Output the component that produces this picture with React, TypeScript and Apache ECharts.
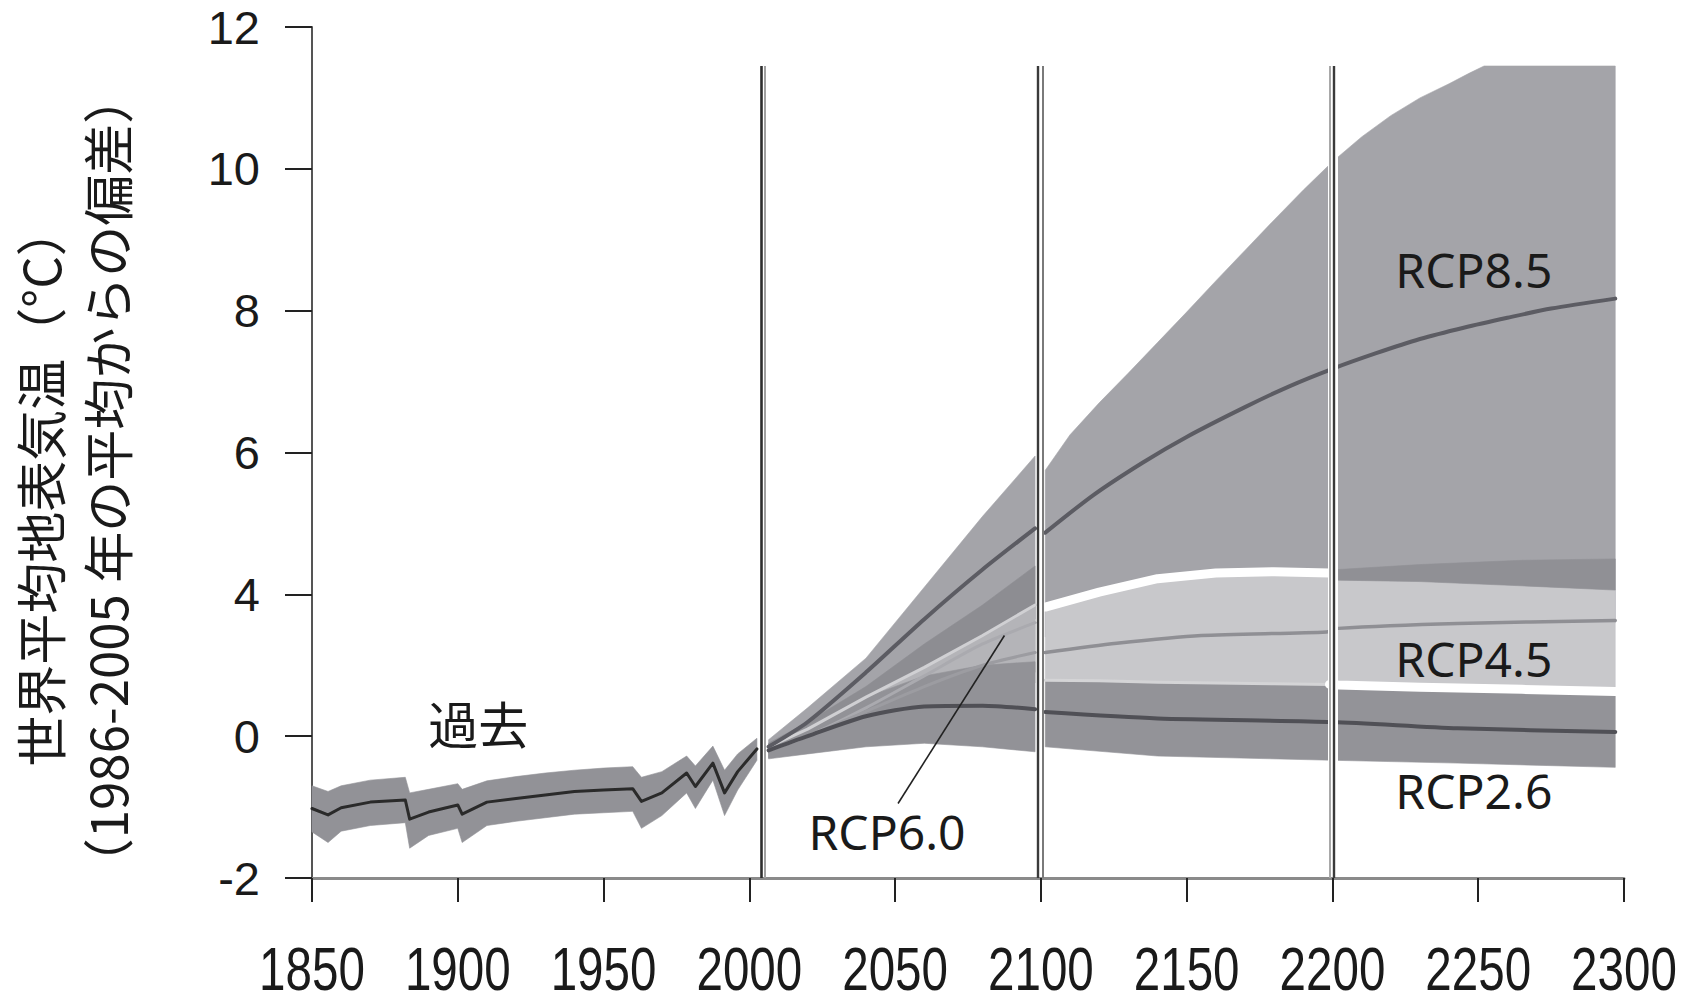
import React, { useEffect, useRef } from "react";
import * as echarts from "echarts";

// ---------- axes ----------
const X_MIN = 1850;
const X_MAX = 2300;
const X_STEP = 50;
const X_TICK_LABELS = ["1850", "1900", "1950", "2000", "2050", "2100", "2150", "2200", "2250", "2300"];
const Y_MIN = 0;
const Y_MAX = 12;
const Y_STEP = 2;
// tick labels exactly as printed in the figure (bottom to top)
const Y_TICK_LABELS = ["-2", "0", "4", "6", "8", "10", "12"];

// ---------- historical (過去) ----------
const HIST_YEARS = [1850, 1855.5, 1860, 1870, 1882, 1883.5, 1890, 1900, 1901.5, 1910, 1920, 1930, 1940, 1950, 1960, 1963, 1970, 1978.5, 1981.5, 1987.5, 1991.5, 1996, 2002.6];
const HIST_MEAN = [0.98, 0.89, 0.99, 1.07, 1.1, 0.83, 0.93, 1.03, 0.9, 1.07, 1.12, 1.17, 1.22, 1.24, 1.26, 1.08, 1.2, 1.48, 1.29, 1.62, 1.2, 1.5, 1.82];
const HIST_UPPER = [1.3, 1.22, 1.3, 1.38, 1.42, 1.2, 1.25, 1.33, 1.25, 1.37, 1.43, 1.48, 1.52, 1.55, 1.57, 1.42, 1.5, 1.72, 1.58, 1.86, 1.52, 1.75, 1.97];
const HIST_LOWER = [0.65, 0.5, 0.66, 0.74, 0.78, 0.42, 0.6, 0.7, 0.5, 0.74, 0.8, 0.85, 0.9, 0.92, 0.94, 0.7, 0.88, 1.2, 0.98, 1.38, 0.88, 1.24, 1.66];

// ---------- projections to 2100 ----------
const PRE_YEARS = [2006.6, 2020, 2040, 2060, 2080, 2098];
const R85_UPPER_1 = [1.95, 2.4, 3.1, 4.1, 5.1, 5.95];
const R85_MEAN_1 = [1.85, 2.2, 2.9, 3.65, 4.35, 4.93];
const R85_LOWER_1 = [1.75, 2.0, 2.45, 2.9, 3.3, 3.65];
const R60_UPPER_1 = [1.9, 2.2, 2.7, 3.3, 3.85, 4.4];
const R60_MEAN_1 = [1.8, 2.0, 2.4, 2.85, 3.3, 3.6];
const R60_LOWER_1 = [1.7, 1.85, 2.2, 2.5, 2.7, 2.9];
const R45_UPPER_1 = [1.85, 2.1, 2.55, 2.97, 3.42, 3.85];
const R45_MEAN_1 = [1.8, 2.0, 2.35, 2.7, 3.0, 3.18];
const R45_LOWER_1 = [1.7, 1.85, 2.15, 2.4, 2.6, 2.75];
const R26_UPPER_1 = [1.85, 2.15, 2.55, 2.85, 3.0, 3.05];
const R26_MEAN_1 = [1.8, 2.0, 2.28, 2.42, 2.43, 2.38];
const R26_LOWER_1 = [1.68, 1.75, 1.85, 1.9, 1.85, 1.78];

// ---------- extensions 2100-2300 ----------
const R85_YEARS_2 = [2101.5, 2110, 2120, 2130, 2140, 2150, 2160, 2170, 2180, 2190, 2200, 2210, 2220, 2230, 2240, 2247, 2252, 2297];
const R85_UPPER_2 = [5.75, 6.25, 6.7, 7.12, 7.55, 7.98, 8.42, 8.85, 9.28, 9.7, 10.1, 10.45, 10.75, 11.0, 11.2, 11.35, 11.45, 11.45];
const R85_LOWER_2 = [3.4, 3.42, 3.45, 3.47, 3.5, 3.52, 3.55, 3.57, 3.6, 3.6, 3.6, 3.6, 3.6, 3.6, 3.6, 3.6, 3.6, 3.6];
const R85_MEAN_YEARS_2 = [2101.5, 2118, 2135, 2150, 2170, 2185, 2200, 2215, 2230, 2245, 2260, 2275, 2297];
const R85_MEAN_2 = [4.87, 5.4, 5.86, 6.22, 6.64, 6.93, 7.18, 7.4, 7.6, 7.76, 7.9, 8.03, 8.17];

const R45_YEARS_2 = [2101.5, 2120, 2140, 2160, 2180, 2199, 2202, 2230, 2265, 2297];
const R45_UPPER_2 = [3.82, 4.03, 4.22, 4.3, 4.32, 4.3, 4.2, 4.18, 4.12, 4.06];
const R45_LOWER_2 = [2.79, 2.78, 2.76, 2.75, 2.74, 2.73, 2.72, 2.69, 2.66, 2.63];
const R45_MEAN_YEARS_2 = [2101.5, 2126, 2155, 2198, 2202, 2243, 2297];
const R45_MEAN_2 = [3.18, 3.31, 3.42, 3.47, 3.52, 3.59, 3.63];
const R45_STRIP_YEARS = [2202, 2230, 2265, 2297];
const R45_STRIP_UPPER = [4.35, 4.42, 4.48, 4.5];
const R45_STRIP_LOWER = [4.2, 4.18, 4.12, 4.06];

const R26_YEARS_2 = [2101.5, 2140, 2200, 2243, 2297];
const R26_UPPER_2 = [2.79, 2.76, 2.73, 2.68, 2.63];
const R26_MEAN_2 = [2.34, 2.25, 2.2, 2.11, 2.06];
const R26_LOWER_2 = [1.85, 1.72, 1.66, 1.62, 1.56];

// ---------- period dividers and annotations ----------
const DIVIDER_TOP = 11.45;
const DIVIDERS = [
  { x: 2004.0, color: "#2e2e2e", width: 2.6 },
  { x: 2005.3, color: "#a0a0a0", width: 2 },
  { x: 2098.9, color: "#3a3a3a", width: 2.4 },
  { x: 2100.7, color: "#7a7a7a", width: 2 },
  { x: 2199.0, color: "#a8a8a8", width: 2 },
  { x: 2200.4, color: "#3a3a3a", width: 2.4 },
];
const GAP_2200 = 2200.0;
const RCP60_POINTER = [
  [2051, 1.05],
  [2087.5, 3.42],
];
const ANNOTATIONS = [
  { text: "過去", x: 1907, y: 2.2, size: 50, cjk: true },
  { text: "RCP8.5", x: 2248.5, y: 8.58, size: 48, cjk: false },
  { text: "RCP4.5", x: 2248.5, y: 3.1, size: 48, cjk: false },
  { text: "RCP2.6", x: 2248.5, y: 1.23, size: 48, cjk: false },
  { text: "RCP6.0", x: 2047.2, y: 0.65, size: 48, cjk: false },
];
const Y_TITLE_1 = "世界平均地表気温（°C）";
const Y_TITLE_2 = "（1986-2005 年の平均からの偏差）";

const LATIN = "'Noto Sans', 'DejaVu Sans', sans-serif";
const TICK_FONT = "'Liberation Sans', 'Noto Sans', sans-serif";
const CJK = "'Noto Sans CJK JP', 'Noto Sans', sans-serif";

const pts = (xs: number[], ys: number[]) => xs.map((x, i) => [x, ys[i]]);

function band(name: string, xs: number[], lo: number[], hi: number[], color: string, z = 2) {
  return {
    name,
    type: "custom",
    z,
    silent: true,
    data: xs.map((x, i) => [x, lo[i], hi[i]]),
    encode: { x: 0, y: [1, 2] },
    renderItem: (params: any, api: any) => {
      if (params.dataIndex !== 0) return null;
      const top = xs.map((x, i) => api.coord([x, hi[i]]));
      const bottom = xs.map((x, i) => api.coord([x, lo[i]])).reverse();
      return {
        type: "polygon",
        shape: { points: top.concat(bottom) },
        style: { fill: color, stroke: color, lineWidth: 0.6 },
      };
    },
  };
}

function line(name: string, xs: number[], ys: number[], color: string, width: number, z = 3, extra: any = {}) {
  return {
    name,
    type: "line",
    z,
    silent: true,
    symbol: "none",
    showSymbol: false,
    data: pts(xs, ys),
    lineStyle: { color, width, cap: "round", join: "round" },
    ...extra,
  };
}

function sub(xs: number[], ys: number[], from: number, to: number) {
  const ox: number[] = [];
  const oy: number[] = [];
  xs.forEach((x, i) => {
    if (x >= from && x <= to) {
      ox.push(x);
      oy.push(ys[i]);
    }
  });
  return [ox, oy] as [number[], number[]];
}

export default function App() {
  const ref = useRef<HTMLDivElement>(null);
  useEffect(() => {
    if (!ref.current) return;
    const chart = echarts.init(ref.current, null, { renderer: "svg" });

    const [wuX, wuY] = sub(R45_YEARS_2, R45_UPPER_2, 2101, 2199.5);
    const [wlX1, wlY1] = sub(R45_YEARS_2, R45_LOWER_2, 2101, 2199.5);
    const [wlX2, wlY2] = sub(R45_YEARS_2, R45_LOWER_2, 2199, 2300);

    const markLineData: any[] = [
      [
        { coord: [GAP_2200, 0.05], lineStyle: { color: "#ffffff", width: 10, type: "solid" } },
        { coord: [GAP_2200, DIVIDER_TOP] },
      ],
      ...DIVIDERS.map((d) => [
        { coord: [d.x, 0], lineStyle: { color: d.color, width: d.width, type: "solid" } },
        { coord: [d.x, DIVIDER_TOP] },
      ]),
      [
        { coord: RCP60_POINTER[0], lineStyle: { color: "#222222", width: 1.6, type: "solid" } },
        { coord: RCP60_POINTER[1] },
      ],
    ];

    const smooth = { smooth: 0.25 };
    const series: any[] = [
      band("過去 範囲", HIST_YEARS, HIST_LOWER, HIST_UPPER, "#929297"),
      band("RCP8.5 範囲", PRE_YEARS, R85_LOWER_1, R85_UPPER_1, "#a4a4a9"),
      band("RCP8.5 範囲 2100-2300", R85_YEARS_2, R85_LOWER_2, R85_UPPER_2, "#a4a4a9"),
      band("RCP6.0 範囲", PRE_YEARS, R60_LOWER_1, R60_UPPER_1, "#8d8d92"),
      band("RCP4.5 範囲", PRE_YEARS, R45_LOWER_1, R45_UPPER_1, "#b4b4b8"),
      band("RCP4.5 範囲 2100-2300", R45_YEARS_2, R45_LOWER_2, R45_UPPER_2, "#c8c8cb"),
      band("RCP4.5 上端 2200-2300", R45_STRIP_YEARS, R45_STRIP_LOWER, R45_STRIP_UPPER, "#909095"),
      band("RCP2.6 範囲", PRE_YEARS, R26_LOWER_1, R26_UPPER_1, "#929297"),
      band("RCP2.6 範囲 2100-2300", R26_YEARS_2, R26_LOWER_2, R26_UPPER_2, "#939398"),
      line("RCP4.5 上端白", wuX, wuY, "#ffffff", 9, 3),
      line("RCP4.5 下端", wlX1, wlY1, "#d4d4d6", 3, 3),
      line("RCP4.5 下端白", wlX2, wlY2, "#ffffff", 9, 3),
      line("RCP4.5 上端線", PRE_YEARS, R45_UPPER_1, "#d0d0d3", 3, 3),
      line("RCP6.0", PRE_YEARS, R60_MEAN_1, "#aaaaaf", 3, 4, smooth),
      line("RCP4.5", PRE_YEARS, R45_MEAN_1, "#9c9ca1", 3, 4, smooth),
      line("RCP4.5 2100-2300", R45_MEAN_YEARS_2, R45_MEAN_2, "#8f8f94", 3.5, 4, smooth),
      line("RCP2.6", PRE_YEARS, R26_MEAN_1, "#505056", 4, 4, smooth),
      line("RCP2.6 2100-2300", R26_YEARS_2, R26_MEAN_2, "#505056", 4, 4, smooth),
      line("RCP8.5", PRE_YEARS, R85_MEAN_1, "#5c5c63", 4, 4, smooth),
      line("RCP8.5 2100-2300", R85_MEAN_YEARS_2, R85_MEAN_2, "#5c5c63", 4, 4, smooth),
      line("過去", HIST_YEARS, HIST_MEAN, "#2a2a2a", 3, 4, {
        markLine: {
          silent: true,
          symbol: ["none", "none"],
          label: { show: false },
          lineStyle: { type: "solid" },
          animation: false,
          z: 10,
          data: markLineData,
        },
      }),
    ];

    chart.setOption({
      animation: false,
      backgroundColor: "#ffffff",
      grid: { left: 312, right: 78, top: 27, bottom: 125, containLabel: false, outerBoundsMode: "none" },
      xAxis: {
        type: "value",
        min: X_MIN,
        max: X_MAX,
        interval: X_STEP,
        axisLine: { show: true, onZero: false, lineStyle: { color: "#8a8a8a", width: 3 } },
        axisTick: { show: true, length: 24, lineStyle: { color: "#222222", width: 2 } },
        axisLabel: { show: false },
        splitLine: { show: false },
      },
      yAxis: {
        type: "value",
        min: Y_MIN,
        max: Y_MAX,
        interval: Y_STEP,
        axisLine: { show: true, onZero: false, lineStyle: { color: "#555555", width: 2 } },
        axisTick: { show: true, length: 27, lineStyle: { color: "#222222", width: 2 } },
        axisLabel: {
          fontSize: 47,
          lineHeight: 40,
          fontFamily: TICK_FONT,
          color: "#1a1a1a",
          margin: 52,
          formatter: (v: number) => Y_TICK_LABELS[Math.round((v - Y_MIN) / Y_STEP)] ?? "",
        },
        splitLine: { show: false },
      },
      series,
    });

    const toPx = (x: number, y: number) => chart.convertToPixel({ gridIndex: 0 } as any, [x, y]) as number[];

    const anno = ANNOTATIONS.map((a) => {
      const p = toPx(a.x, a.y);
      return {
        type: "text",
        x: p[0],
        y: p[1],
        z: 20,
        silent: true,
        style: {
          text: a.text,
          fontSize: a.size,
          fontFamily: a.cjk ? CJK : LATIN,
          fill: "#1a1a1a",
          textAlign: "center",
          textVerticalAlign: "middle",
          align: "center",
          verticalAlign: "middle",
        },
      };
    });

    // x tick labels (condensed, tall) placed at the axis ticks via the scale
    const axisY = toPx(X_MIN, Y_MIN)[1];
    const xLabels = X_TICK_LABELS.map((t, i) => {
      const p = toPx(X_MIN + i * X_STEP, Y_MIN);
      return {
        type: "text",
        x: p[0],
        y: axisY + 91,
        scaleX: 0.82,
        scaleY: 1.04,
        silent: true,
        style: {
          text: t,
          fontSize: 58,
          lineHeight: 44,
          fontFamily: TICK_FONT,
          fill: "#1a1a1a",
          textAlign: "center",
          textVerticalAlign: "middle",
          align: "center",
          verticalAlign: "middle",
        },
      };
    });

    const titles = [
      { text: Y_TITLE_1, x: 39, y: 486 },
      { text: Y_TITLE_2, x: 106, y: 481 },
    ].map((t) => ({
      type: "text",
      x: t.x,
      y: t.y,
      rotation: Math.PI / 2,
      silent: true,
      style: {
        text: t.text,
        fontSize: 51,
        fontFamily: CJK,
        fill: "#1a1a1a",
        textAlign: "center",
        textVerticalAlign: "middle",
        align: "center",
        verticalAlign: "middle",
      },
    }));
    chart.setOption({ graphic: [...titles, ...xLabels, ...anno] });

    return () => chart.dispose();
  }, []);

  return (
    <div
      ref={ref}
      style={{ position: "absolute", left: 0, top: 0, width: 1702, height: 1003, background: "#fff" }}
    />
  );
}
